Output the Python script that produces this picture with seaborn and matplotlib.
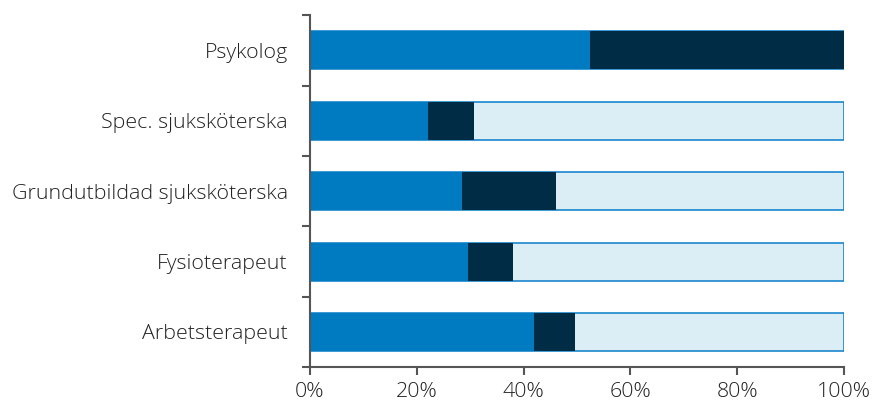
import pandas as pd
import matplotlib.pyplot as plt
import seaborn as sns
from matplotlib.ticker import PercentFormatter, FixedLocator, NullFormatter

sns.set_theme(style="white")
plt.rcParams["font.family"] = ["Open Sans", "DejaVu Sans"]

categories = ["Psykolog", "Spec. sjuksköterska", "Grundutbildad sjuksköterska",
              "Fysioterapeut", "Arbetsterapeut"]
blue_share = [52.4, 22.1, 28.5, 29.6, 41.9]
dark_share = [47.6, 8.6, 17.6, 8.4, 7.7]
light_share = [0.0, 69.3, 53.9, 62.0, 50.4]

df = pd.DataFrame({"Yrke": categories, "blue": blue_share,
                   "dark": dark_share, "light": light_share})
df["cum_dark"] = df["blue"] + df["dark"]
df["cum_light"] = df["cum_dark"] + df["light"]

fig = plt.figure(figsize=(8.73, 4.08), dpi=100)
ax = fig.add_axes([0.355, 0.100, 0.612, 0.863])

sns.barplot(data=df, x="cum_light", y="Yrke", order=categories, color="#dbeef6",
            edgecolor="#1a86cc", linewidth=1.2, width=0.54, saturation=1, ax=ax)
sns.barplot(data=df, x="cum_dark", y="Yrke", order=categories, color="#002c46",
            edgecolor="#002c46", linewidth=0, width=0.54, saturation=1, ax=ax)
sns.barplot(data=df, x="blue", y="Yrke", order=categories, color="#007ac0",
            linewidth=0, width=0.54, saturation=1, ax=ax)

ax.set_xlim(0, 100)
ax.set_ylim(4.5, -0.5)
ax.set_xlabel("")
ax.set_ylabel("")
ax.xaxis.set_major_formatter(PercentFormatter(decimals=0))
ax.set_xticks([0, 20, 40, 60, 80, 100])

ax.yaxis.set_minor_locator(FixedLocator([-0.5, 0.5, 1.5, 2.5, 3.5, 4.5]))
ax.yaxis.set_minor_formatter(NullFormatter())
ax.tick_params(axis="y", which="major", length=0, pad=16, labelsize=15.4, colors="#222222")
ax.tick_params(axis="y", which="minor", left=True, length=6, width=1.5, color="#555555")
ax.tick_params(axis="x", bottom=True, length=6, width=1.5, color="#555555",
               labelsize=15.4, labelcolor="#222222", pad=5)
for lab in ax.get_xticklabels() + ax.get_yticklabels():
    lab.set_fontweight("light")

for s in ["top", "right"]:
    ax.spines[s].set_visible(False)
for s in ["left", "bottom"]:
    ax.spines[s].set_color("#555555")
    ax.spines[s].set_linewidth(1.5)

fig.savefig("out.png", dpi=100)
